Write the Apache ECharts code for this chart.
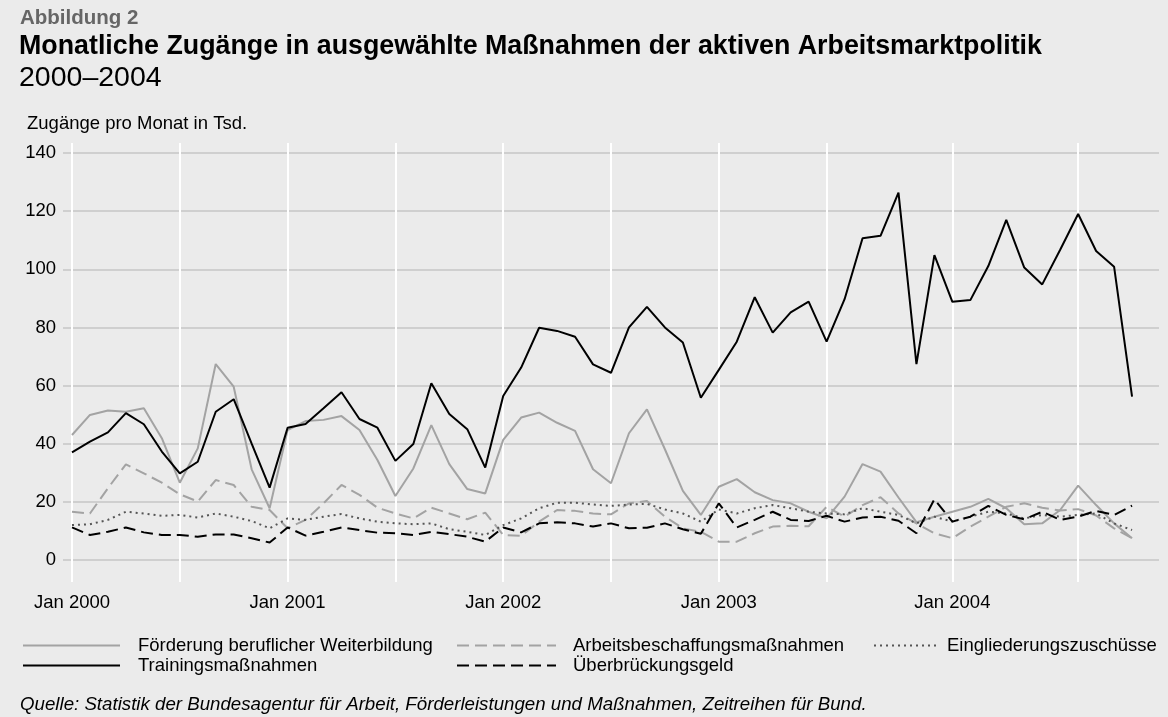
<!DOCTYPE html>
<html>
<head>
<meta charset="utf-8">
<script src="https://cdn.jsdelivr.net/npm/echarts@6/dist/echarts.min.js"></script>
<style>
  html, body { margin: 0; padding: 0; background: #ebebeb; }
  #chart { width: 1168px; height: 717px; }
</style>
</head>
<body>
<div id="chart"></div>
<script>
// months Jan 2000 .. Dec 2004 (index 0..59)
const months = []
for (let y = 2000; y <= 2004; y++) {
    for (let m = 1; m <= 12; m++) months.push(y + '-' + ('0' + m).slice(-2))
}

// tick positions (month index) as drawn in the source figure
const tickIdx = [0, 6, 12, 18, 24, 30, 36, 42, 49, 56]
const labelIdx = [0, 12, 24, 36, 49]
const tickLabels = ['Jan 2000', 'Jan 2001', 'Jan 2002', 'Jan 2003', 'Jan 2004']

// Zugänge pro Monat in Tsd.
const weiterbildung = [
    43.0, 49.9, 51.4, 51.0, 52.2, 41.9, 26.6, 38.4, 67.4, 59.6, 31.2, 17.8,
    44.7, 47.8, 48.2, 49.5, 44.7, 34.4, 22.0, 31.5, 46.4, 33.0, 24.4, 22.9,
    41.3, 49.0, 50.7, 47.2, 44.4, 31.2, 26.4, 43.6, 51.8, 38.1, 23.8, 15.5,
    25.2, 27.8, 23.3, 20.6, 19.5, 16.6, 14.3, 21.8, 33.0, 30.4, 21.5, 13.0,
    14.9, 16.6, 18.3, 21.0, 17.8, 12.3, 12.6, 17.2, 25.6, 18.9, 12.6, 7.5
]
const abm = [
    16.6, 16.0, 24.7, 32.9, 29.8, 26.6, 22.6, 20.1, 27.5, 25.8, 18.3, 17.2,
    10.9, 13.8, 19.5, 25.8, 22.4, 18.0, 16.0, 14.3, 18.0, 16.0, 14.0, 16.3,
    8.6, 8.3, 13.2, 17.2, 16.9, 16.0, 15.7, 19.5, 20.3, 14.9, 10.9, 9.7,
    6.3, 6.3, 9.2, 11.5, 11.8, 11.6, 18.3, 14.9, 18.9, 21.6, 16.0, 12.6,
    9.2, 7.5, 11.5, 14.9, 18.3, 19.5, 18.0, 17.0, 17.5, 15.3, 10.9, 7.5
]
const eingliederung = [
    12.0, 12.3, 13.8, 16.6, 16.0, 15.2, 15.5, 14.6, 16.0, 14.9, 13.4, 10.9,
    14.3, 13.8, 14.9, 15.8, 14.3, 13.2, 12.6, 12.3, 12.6, 10.6, 9.7, 8.6,
    12.0, 14.3, 17.8, 19.7, 19.7, 19.1, 18.6, 19.1, 19.3, 17.4, 16.0, 13.2,
    17.4, 16.0, 17.8, 18.9, 17.8, 16.6, 16.0, 15.7, 17.8, 16.6, 15.5, 12.6,
    14.9, 13.2, 14.9, 16.6, 16.0, 14.3, 15.5, 14.9, 15.5, 16.0, 12.6, 10.3
]
const training = [
    37.0, 40.7, 43.9, 50.5, 46.7, 37.3, 29.8, 33.8, 51.0, 55.3, 40.0, 24.9,
    45.5, 46.8, 52.2, 57.7, 48.5, 45.5, 34.1, 39.9, 60.8, 50.2, 45.0, 31.8,
    56.4, 66.2, 79.9, 78.8, 76.8, 67.3, 64.4, 80.0, 87.1, 80.0, 74.8, 55.8,
    65.4, 75.1, 90.4, 78.2, 85.2, 88.9, 75.1, 89.7, 110.7, 111.5, 126.4, 67.4,
    104.9, 88.8, 89.4, 101.1, 117.0, 100.6, 94.8, 106.7, 119.0, 106.3, 100.9, 56.2
]
const ueberbrueckung = [
    11.2, 8.6, 9.7, 11.2, 9.5, 8.6, 8.6, 8.0, 8.8, 8.8, 7.5, 6.0,
    11.2, 8.4, 9.7, 11.2, 10.3, 9.4, 9.2, 8.6, 9.7, 8.9, 8.0, 6.3,
    11.2, 9.5, 12.6, 13.0, 12.6, 11.5, 12.6, 10.9, 11.1, 12.6, 10.6, 9.0,
    19.5, 11.2, 13.8, 16.6, 13.8, 13.4, 15.2, 13.2, 14.6, 14.9, 13.5, 9.2,
    20.9, 13.2, 14.9, 18.6, 15.5, 14.0, 16.6, 13.8, 14.9, 16.9, 15.5, 18.7
]

const names = [
    'Förderung beruflicher Weiterbildung',
    'Arbeitsbeschaffungsmaßnahmen',
    'Eingliederungszuschüsse',
    'Trainingsmaßnahmen',
    'Überbrückungsgeld'
]

const font = '"Liberation Sans", Arial, Helvetica, sans-serif'
const toPairs = arr => arr.map((v, i) => [i, v])

function lineSeries(name, values, color, type, z) {
    return {
        name,
        type: 'line',
        data: toPairs(values),
        symbol: 'none',
        z,
        lineStyle: { color, width: 2, type },
        itemStyle: { color }
    }
}

function legendCol(data, left, width, pad) {
    return {
        data, orient: 'vertical', left, top: 636, padding: 0,
        itemWidth: width, itemHeight: 14, itemGap: 1,
        itemStyle: { opacity: 0 },
        textStyle: { fontSize: 18.5, color: '#000', padding: [0, 0, 0, pad] }
    }
}

const chart = echarts.init(document.getElementById('chart'))
chart.setOption({
    animation: false,
    backgroundColor: '#ebebeb',
    textStyle: { fontFamily: font },
    graphic: [
        { type: 'text', style: { x: 20, y: 18, text: 'Abbildung 2', fill: '#666', font: 'bold 20.5px ' + font, verticalAlign: 'middle' } },
        { type: 'text', style: { x: 19, y: 47, text: 'Monatliche Zugänge in ausgewählte Maßnahmen der aktiven Arbeitsmarktpolitik', fill: '#000', font: 'bold 26.8px ' + font, verticalAlign: 'middle' } },
        { type: 'text', style: { x: 19, y: 78, text: '2000–2004', fill: '#000', font: '28.5px ' + font, verticalAlign: 'middle' } },
        { type: 'text', style: { x: 27, y: 124, text: 'Zugänge pro Monat in Tsd.', fill: '#000', font: '18.5px ' + font, verticalAlign: 'middle' } },
        { type: 'text', style: { x: 20, y: 705, text: 'Quelle: Statistik der Bundesagentur für Arbeit, Förderleistungen und Maßnahmen, Zeitreihen für Bund.', fill: '#000', font: 'italic 18.7px ' + font, verticalAlign: 'middle' } }
    ],
    legend: [
        legendCol([names[0], names[3]], 22, 97, 13),
        legendCol([names[1], names[4]], 456, 99, 12),
        legendCol([names[2]], 873, 62, 6)
    ],
    grid: { left: 63, right: 9, top: 153, bottom: 157 },
    xAxis: [
        {
            type: 'value', min: -0.5, max: 60.5, position: 'bottom',
            axisLine: { show: false },
            axisTick: { show: true, customValues: tickIdx, length: 22, lineStyle: { color: '#fff', width: 2 } },
            axisLabel: {
                customValues: labelIdx, margin: 33, fontSize: 18.5, color: '#000',
                formatter: v => tickLabels[labelIdx.indexOf(v)] || ''
            },
            splitLine: { show: true, lineStyle: { color: '#fff', width: 2 } }
        },
        {
            type: 'value', min: -0.5, max: 60.5, position: 'top',
            axisLine: { show: false },
            axisTick: { show: true, customValues: tickIdx, length: 10, lineStyle: { color: '#fff', width: 2 } },
            axisLabel: { show: false },
            splitLine: { show: false }
        }
    ],
    yAxis: {
        type: 'value', min: 0, max: 140, interval: 20,
        axisLine: { show: false },
        axisTick: { show: false },
        axisLabel: { fontSize: 18.5, color: '#000', margin: 7 },
        splitLine: { show: true, lineStyle: { color: '#cfcfcf', width: 2 } }
    },
    series: [
        lineSeries(names[0], weiterbildung, '#a3a3a3', 'solid', 2),
        lineSeries(names[1], abm, '#a3a3a3', [12, 6], 3),
        lineSeries(names[2], eingliederung, '#555', [2, 4], 4),
        lineSeries(names[4], ueberbrueckung, '#000', [12, 6], 5),
        lineSeries(names[3], training, '#000', 'solid', 6)
    ]
})
</script>
</body>
</html>
